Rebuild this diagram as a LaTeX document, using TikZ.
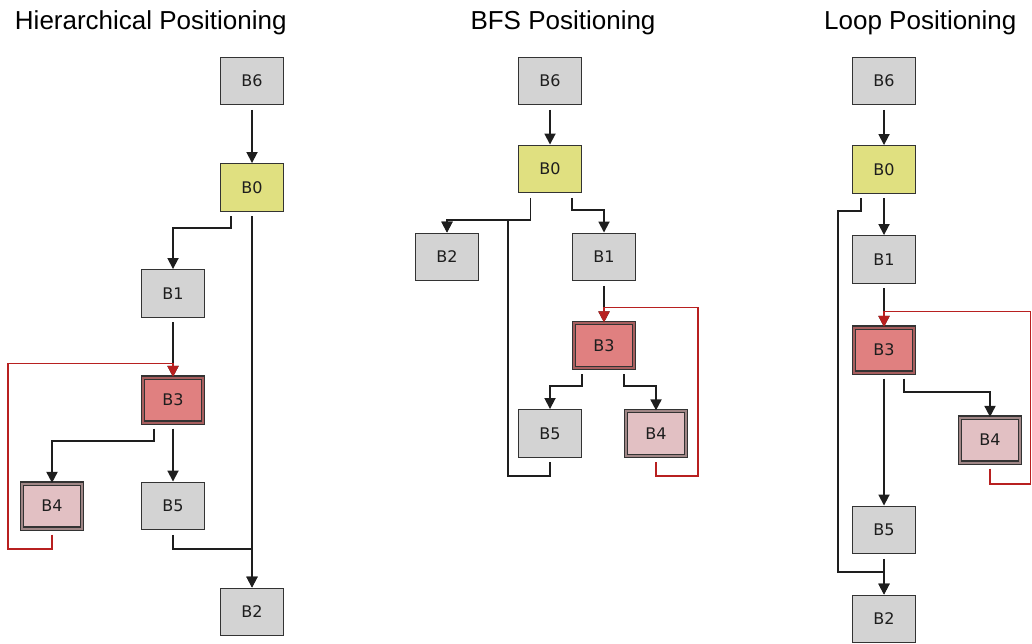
\documentclass[tikz,border=0pt]{standalone}
\usepackage{fontspec}
\setmainfont{Liberation Sans}
\newfontfamily\labelfont{DejaVu Sans}
\usetikzlibrary{arrows.meta,calc}

\definecolor{bordc}{HTML}{333333}
\definecolor{edgec}{HTML}{1E1E1E}
\definecolor{loopc}{HTML}{B82020}
\definecolor{grayfill}{HTML}{D3D3D3}
\definecolor{yellowfill}{HTML}{E0E080}
\definecolor{hotfill}{HTML}{E08080}
\definecolor{hotrim}{HTML}{A85E5E}
\definecolor{palefill}{HTML}{E2C0C3}
\definecolor{palerim}{HTML}{A08686}

\tikzset{
  box/.style={draw=bordc, line width=1.4pt, minimum width=63pt, minimum height=47.5pt,
              inner sep=0pt, text=edgec, font=\labelfont\fontsize{16}{18}\selectfont},
  plainbox/.style={box, fill=grayfill},
  entrybox/.style={box, fill=yellowfill},
  headbox/.style={box, fill=hotrim, double=hotrim, double distance=2pt, line width=1.2pt,
                  minimum width=59.6pt, minimum height=45pt,
                  path picture={\fill[hotfill] ([shift={(2.2pt,2.2pt)}]path picture bounding box.south west)
                                 rectangle ([shift={(-2.2pt,-2.2pt)}]path picture bounding box.north east);}},
  bodybox/.style={box, fill=palerim, double=palerim, double distance=2pt, line width=1.2pt,
                  minimum width=59.6pt, minimum height=45pt,
                  path picture={\fill[palefill] ([shift={(2.2pt,2.2pt)}]path picture bounding box.south west)
                                 rectangle ([shift={(-2.2pt,-2.2pt)}]path picture bounding box.north east);}},
  title/.style={anchor=base, font=\fontsize{26}{31}\selectfont, text=black},
  flow/.style={draw=edgec, line width=1.8pt, -{Triangle[width=11pt,length=11pt]}},
  back/.style={draw=loopc, line width=1.8pt, -{Triangle[width=11pt,length=11pt]}},
}

\begin{document}
\begin{tikzpicture}[x=1pt,y=-1pt]
\useasboundingbox (0,0) rectangle (1032,644);

% ---------- titles ----------
\node[title] (t1) at (150.8,29.3) {Hierarchical Positioning};
\node[title] (t2) at (563,29.3) {BFS Positioning};
\node[title] (t3) at (920.3,29.3) {Loop Positioning};

% ---------- hierarchical layout ----------
\node[plainbox] (hB6) at (252,81) {B6};
\node[entrybox] (hB0) at (252,187.5) {B0};
\node[plainbox] (hB1) at (173,293.5) {B1};
\node[headbox]  (hB3) at (173,400) {B3};
\node[bodybox]  (hB4) at (52,506) {B4};
\node[plainbox] (hB5) at (173,506) {B5};
\node[plainbox] (hB2) at (252,612) {B2};

\draw[flow] ($(hB6.south)+(0,4.5)$) -- (hB0.north);
\draw[flow] ($(hB0.south)+(-21,4.5)$) -- ++(0,11.25) -| (hB1.north);
\draw[flow] ($(hB0.south)+(0,4.5)$) -- (hB2.north);
\draw[flow] ($(hB1.south)+(0,4.5)$) -- (hB3.north);
\draw[flow] ($(hB3.south)+(-19,5.5)$) -- ++(0,12) -| (hB4.north);
\draw[flow] ($(hB3.south)+(0,5.5)$) -- (hB5.north);
\draw[flow] ($(hB5.south)+(0,4.5)$) -- ++(0,13.75) -| (hB2.north);
\draw[back] ($(hB4.south)+(0,5.5)$) -- ++(0,14) -| ($(hB3.north)+(-165,-13.5)$)
            -- ($(hB3.north)+(0,-13.5)$) -- (hB3.north);

% ---------- BFS layout ----------
\node[plainbox] (bB6) at (550,81) {B6};
\node[entrybox] (bB0) at (550,169) {B0};
\node[plainbox] (bB2) at (447,257) {B2};
\node[plainbox] (bB1) at (604,257) {B1};
\node[headbox]  (bB3) at (604,345.5) {B3};
\node[plainbox] (bB5) at (550,433.5) {B5};
\node[bodybox]  (bB4) at (656,433.5) {B4};

\draw[flow] ($(bB6.south)+(0,4.5)$) -- (bB0.north);
\draw[flow] ($(bB0.south)+(-19.5,4.5)$) -- ++(0,21.75) -| (bB2.north);
\draw[flow] ($(bB0.south)+(22,4.5)$) -- ++(0,11.75) -| (bB1.north);
\draw[flow] ($(bB1.south)+(0,4.5)$) -- (bB3.north);
\draw[flow] ($(bB3.south)+(-22,5.5)$) -- ++(0,12) -| (bB5.north);
\draw[flow] ($(bB3.south)+(20,5.5)$) -- ++(0,12) -| (bB4.north);
\draw[flow] ($(bB5.south)+(0,4.5)$) -- ++(0,13.25) -| ($(bB0.south)+(-42,26.25)$) -| (bB2.north);
\draw[back] ($(bB4.south)+(0,5.5)$) -- ++(0,13.5) -| ($(bB3.north)+(94,-15)$)
            -- ($(bB3.north)+(0,-15)$) -- (bB3.north);

% ---------- loop layout ----------
\node[plainbox] (lB6) at (884,81) {B6};
\node[entrybox] (lB0) at (884,169.5) {B0};
\node[plainbox] (lB1) at (884,259.5) {B1};
\node[headbox]  (lB3) at (884,350) {B3};
\node[bodybox]  (lB4) at (990,440) {B4};
\node[plainbox] (lB5) at (884,530) {B5};
\node[plainbox] (lB2) at (884,619) {B2};

\draw[flow] ($(lB6.south)+(0,4.5)$) -- (lB0.north);
\draw[flow] ($(lB0.south)+(0,4.5)$) -- (lB1.north);
\draw[flow] ($(lB0.south)+(-23,4.5)$) -- ++(0,12.25) -| ($(lB2.north)+(-46,-22.25)$) -| (lB2.north);
\draw[flow] ($(lB1.south)+(0,4.5)$) -- (lB3.north);
\draw[flow] ($(lB3.south)+(0,5.5)$) -- (lB5.north);
\draw[flow] ($(lB3.south)+(20,5.5)$) -- ++(0,13) -| (lB4.north);
\draw[flow] ($(lB5.south)+(0,4.5)$) -- (lB2.north);
\draw[back] ($(lB4.south)+(0,5.5)$) -- ++(0,15) -| ($(lB3.north)+(146.5,-15.5)$)
            -- ($(lB3.north)+(0,-15.5)$) -- (lB3.north);
\end{tikzpicture}
\end{document}
